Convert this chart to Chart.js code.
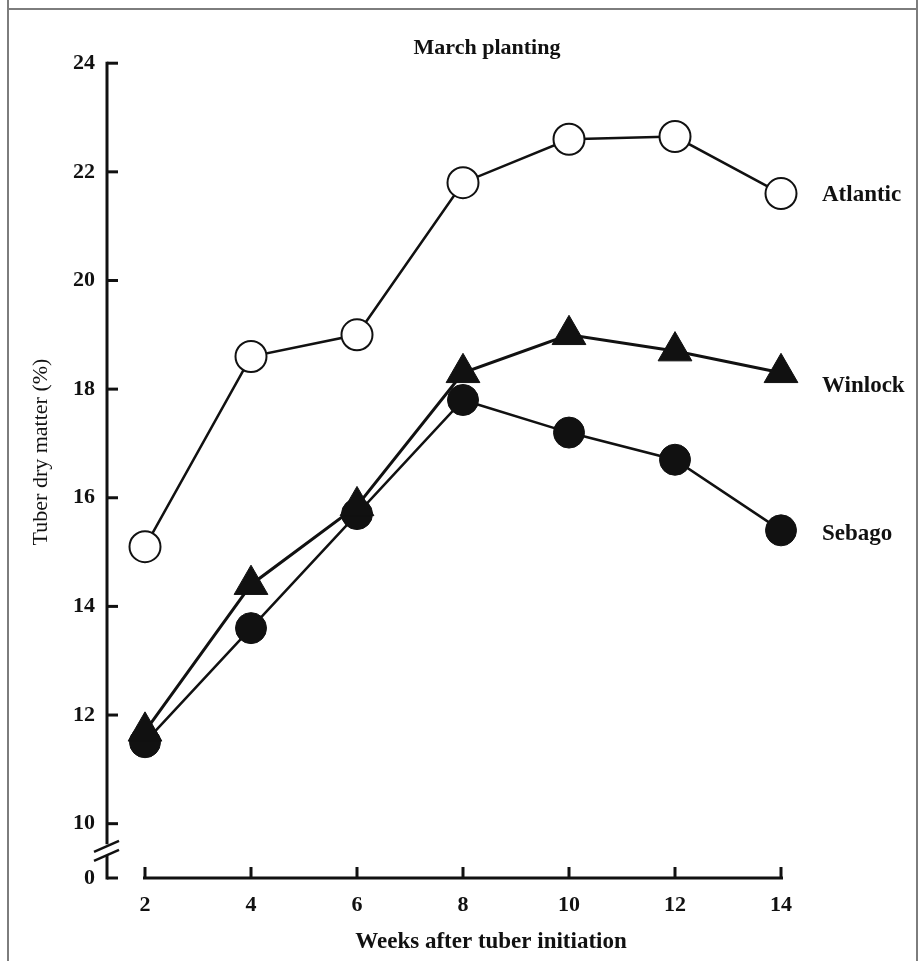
<!DOCTYPE html>
<html><head><meta charset="utf-8">
<script src="https://cdn.jsdelivr.net/npm/chart.js@4.4.1/dist/chart.umd.min.js"></script>
<style>html,body{margin:0;padding:0;background:#fff;} #wrap{width:922px;height:961px;position:relative;}</style>
</head><body><div id="wrap"><canvas id="c"></canvas></div>
<script>
// ---- data ----
const weeks = [2, 4, 6, 8, 10, 12, 14];
const atlantic = [15.1, 18.6, 19.0, 21.8, 22.6, 22.65, 21.6];
const winlock  = [11.7, 14.4, 15.85, 18.3, 19.0, 18.7, 18.3];
const sebago   = [11.5, 13.6, 15.7, 17.8, 17.2, 16.7, 15.4];
const seriesNames = ['Atlantic', 'Winlock', 'Sebago'];
const xTicks = [2, 4, 6, 8, 10, 12, 14];
const yTicks = [10, 12, 14, 16, 18, 20, 22, 24];
const yBreakValue = 9;     // axis position standing for the "0" below the break
const yBreakLabel = '0';
const chartTitle = 'March planting';
const xTitle = 'Weeks after tuber initiation';
const yTitle = 'Tuber dry matter (%)';

// ---- styling ----
const FONT = "'Liberation Serif','Times New Roman',serif";
const INK = '#111';
const labelOffsets = [1, 13, 4];

const pts = arr => weeks.map((w, i) => ({x: w, y: arr[i]}));

const deco = {
  id: 'deco',
  beforeDraw(chart) {
    const ctx = chart.ctx;
    ctx.save();
    ctx.strokeStyle = '#7d7d7d';
    ctx.lineWidth = 2;
    ctx.beginPath();
    ctx.moveTo(8, 9); ctx.lineTo(917, 9);
    ctx.moveTo(8, 0); ctx.lineTo(8, 961);
    ctx.moveTo(917, 0); ctx.lineTo(917, 961);
    ctx.stroke();
    ctx.restore();
  },
  beforeDatasetsDraw(chart) {
    const ctx = chart.ctx, xs = chart.scales.x, ys = chart.scales.y;
    const ax = chart.chartArea.left - 38;
    const yb = ys.getPixelForValue(yBreakValue);
    const line = (x1, y1, x2, y2) => { ctx.beginPath(); ctx.moveTo(x1, y1); ctx.lineTo(x2, y2); ctx.stroke(); };
    ctx.save();
    ctx.strokeStyle = INK;
    ctx.lineWidth = 3;
    // upper y axis
    line(ax, ys.getPixelForValue(yTicks[yTicks.length - 1]) - 1.5, ax, ys.getPixelForValue(9.62));
    yTicks.forEach(v => { const p = ys.getPixelForValue(v); line(ax, p, ax + 11, p); });
    // break marks
    const ym = ys.getPixelForValue(9.5);
    ctx.lineWidth = 2.5;
    line(ax - 13, ym + 1, ax + 12, ym - 10);
    line(ax - 13, ym + 10, ax + 12, ym - 1);
    ctx.lineWidth = 3;
    // lower stub
    line(ax, ys.getPixelForValue(9.42), ax, yb + 1.5);
    line(ax, yb, ax + 11, yb);
    // x axis
    line(xs.getPixelForValue(xTicks[0]) - 2, yb, xs.getPixelForValue(xTicks[xTicks.length - 1]) + 2, yb);
    xTicks.forEach(v => { const p = xs.getPixelForValue(v); line(p, yb, p, yb - 11); });
    ctx.restore();
  },
  afterDraw(chart) {
    const ctx = chart.ctx, ys = chart.scales.y, area = chart.chartArea;
    ctx.save();
    ctx.fillStyle = INK;
    ctx.textBaseline = 'middle';
    ctx.font = 'bold 22px ' + FONT;
    ctx.textAlign = 'center';
    ctx.fillText(chartTitle, 487, 48);
    ctx.textAlign = 'left';
    ctx.font = 'bold 23px ' + FONT;
    const series = [atlantic, winlock, sebago];
    series.forEach((s, i) => {
      const y = ys.getPixelForValue(s[s.length - 1]) + labelOffsets[i];
      ctx.fillText(seriesNames[i], area.right + 41, y);
    });
    ctx.textAlign = 'center';
    ctx.font = 'bold 23px ' + FONT;
    ctx.fillText(xTitle, 491, 942);
    ctx.translate(41, 452);
    ctx.rotate(-Math.PI / 2);
    ctx.font = '22px ' + FONT;
    ctx.fillText(yTitle, 0, 0);
    ctx.restore();
  }
};

const tickFont = {family: FONT, size: 22, weight: 'bold'};

new Chart(document.getElementById('c'), {
  type: 'line',
  data: {
    datasets: [
      {label: seriesNames[0], data: pts(atlantic), borderColor: INK, borderWidth: 2.5,
       pointStyle: 'circle', pointRadius: 15.5, pointBackgroundColor: '#fff', pointBorderColor: INK,
       pointBorderWidth: 2, tension: 0, clip: false},
      {label: seriesNames[1], data: pts(winlock), borderColor: INK, borderWidth: 3,
       pointStyle: 'triangle', pointRadius: 19.5, pointBackgroundColor: INK, pointBorderColor: INK,
       pointBorderWidth: 1, tension: 0, clip: false},
      {label: seriesNames[2], data: pts(sebago), borderColor: INK, borderWidth: 2.5,
       pointStyle: 'circle', pointRadius: 15.5, pointBackgroundColor: INK, pointBorderColor: INK,
       pointBorderWidth: 1, tension: 0, clip: false}
    ]
  },
  options: {
    responsive: true,
    maintainAspectRatio: false,
    animation: false,
    layout: {padding: {top: 54, right: 141, left: 0, bottom: 0}},
    plugins: {legend: {display: false}, tooltip: {enabled: false}},
    scales: {
      x: {
        type: 'linear', min: xTicks[0], max: xTicks[xTicks.length - 1],
        grid: {display: false, drawTicks: false}, border: {display: false},
        afterBuildTicks: s => { s.ticks = xTicks.map(v => ({value: v})); },
        ticks: {padding: 14, color: INK, font: tickFont, maxRotation: 0, autoSkip: false},
        afterFit: s => { s.height = 83; }
      },
      y: {
        type: 'linear', min: yBreakValue, max: yTicks[yTicks.length - 1],
        grid: {display: false, drawTicks: false}, border: {display: false},
        afterBuildTicks: s => { s.ticks = [yBreakValue, ...yTicks].map(v => ({value: v})); },
        ticks: {padding: 50, color: INK, font: tickFont, autoSkip: false,
                callback: v => v === yBreakValue ? yBreakLabel : String(v)},
        afterFit: s => { s.width = 145; }
      }
    }
  },
  plugins: [deco]
});
</script>
</body></html>
